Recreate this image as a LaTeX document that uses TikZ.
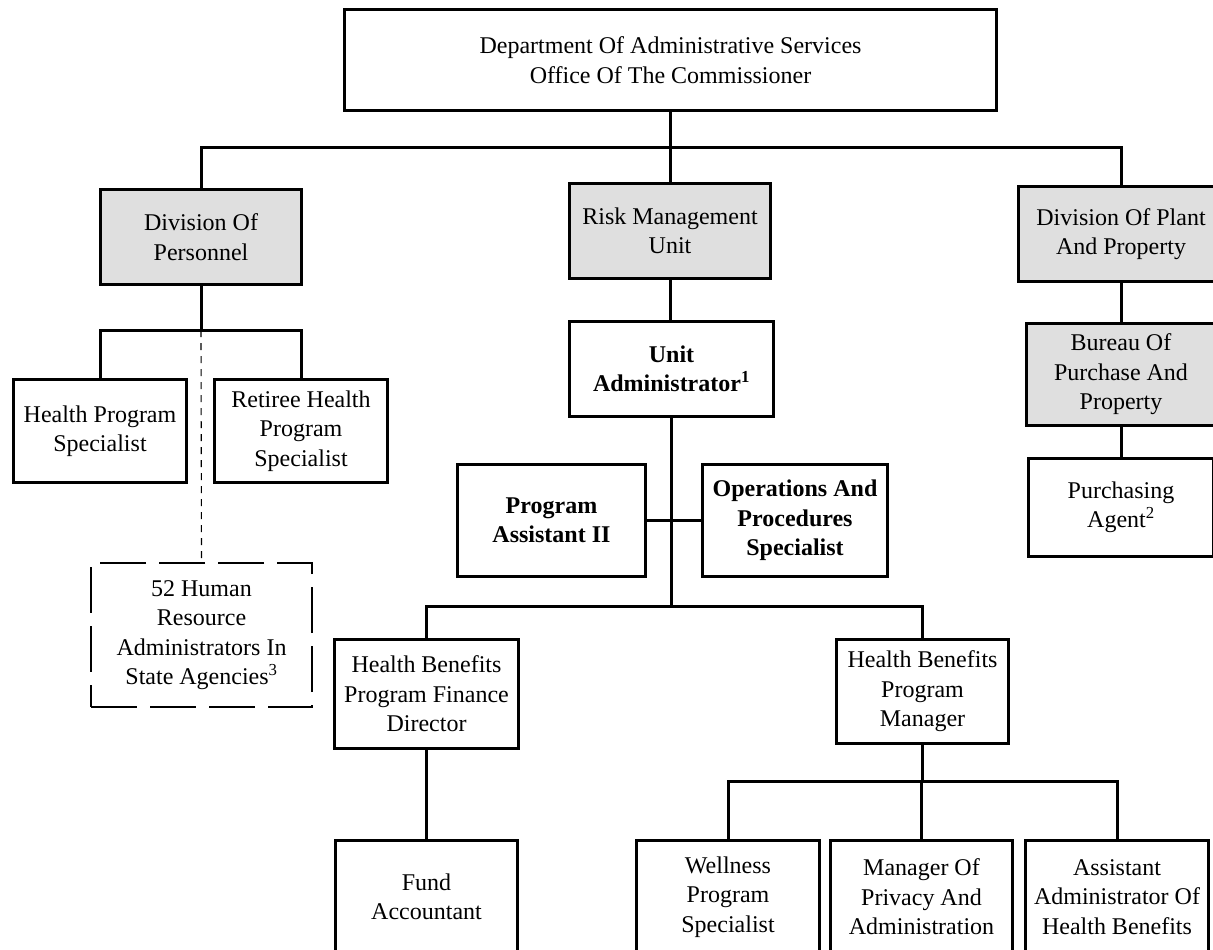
\documentclass[tikz,border=0pt]{standalone}
\usepackage{fontspec}
\setmainfont{Liberation Serif}
\newcommand{\chartfont}{\fontsize{24}{29.5}\selectfont}
\tikzset{
	orgbox/.style={draw,line width=3.6pt,fill=white,inner sep=0pt,align=center,font=\chartfont},
	grayorg/.style={orgbox,fill=gray!25},
	boldorg/.style={orgbox,font=\chartfont\bfseries},
	dashorg/.style={draw,line width=1.1pt,dash pattern=on 46pt off 13pt,inner sep=0pt,align=center,font=\chartfont},
	orgline/.style={line width=3pt},
	dotline/.style={line width=1.1pt,dash pattern=on 7pt off 6pt}
}

\begin{document}
\begin{tikzpicture}[x=1pt,y=-1pt]
	\useasboundingbox (0,0) rectangle (1213,950);
	\clip (0,0) rectangle (1213,950);

	\node[orgbox,minimum width=652pt,minimum height=101pt] (commissioner) at (670.5,60) {Department Of Administrative Services\\Office Of The Commissioner};

	\node[grayorg,minimum width=201pt,minimum height=95pt] (personnel) at (201,237) {Division Of\\Personnel};
	\node[grayorg,minimum width=201pt,minimum height=95pt] (risk) at (670,231) {Risk Management\\Unit};
	\node[grayorg,minimum width=205pt,minimum height=95pt] (plant) at (1121,234) {Division Of Plant\\And Property};

	\node[orgbox,minimum width=173pt,minimum height=103pt] (hps) at (100,431) {Health Program\\Specialist};
	\node[orgbox,minimum width=173pt,minimum height=103pt] (retiree) at (301,431) {Retiree Health\\Program\\Specialist};
	\node[dashorg,minimum width=221pt,minimum height=144pt] (agencies) at (201.5,635) {52 Human\\Resource\\Administrators In\\State Agencies\textsuperscript{3}};

	\node[boldorg,minimum width=204pt,minimum height=95pt] (administrator) at (671.5,369) {Unit\\Administrator\textsuperscript{1}};
	\node[boldorg,minimum width=188pt,minimum height=112pt] (assistant) at (551.5,520.5) {Program\\Assistant II};
	\node[boldorg,minimum width=185pt,minimum height=112pt] (operations) at (795,520.5) {Operations And\\Procedures\\Specialist};

	\node[orgbox,minimum width=184pt,minimum height=109pt] (finance) at (426.5,694) {Health Benefits\\Program Finance\\Director};
	\node[orgbox,minimum width=172pt,minimum height=104pt] (manager) at (922.5,691.5) {Health Benefits\\Program\\Manager};

	\node[orgbox,minimum width=182pt,minimum height=113pt] (fund) at (426.5,897) {Fund\\Accountant};
	\node[orgbox,minimum width=183pt,minimum height=113pt] (wellness) at (728,897) {Wellness\\Program\\Specialist};
	\node[orgbox,minimum width=182pt,minimum height=113pt] (privacy) at (921.5,897) {Manager Of\\Privacy And\\Administration};
	\node[orgbox,minimum width=183pt,minimum height=113pt] (benefits) at (1117,897) {Assistant\\Administrator Of\\Health Benefits};

	\node[grayorg,minimum width=189pt,minimum height=102pt] (bureau) at (1121,374.5) {Bureau Of\\Purchase And\\Property};
	\node[orgbox,minimum width=185pt,minimum height=98pt] (purchasing) at (1121,507.5) {Purchasing\\Agent\textsuperscript{2}};

	\coordinate (top-y) at (0,147);
	\coordinate (personnel-y) at (0,330);
	\coordinate (unit-y) at (0,606);
	\coordinate (manager-y) at (0,781);

	\draw[orgline] (commissioner.south) -- (commissioner.south|-top-y);
	\draw[orgline] (personnel.north) |- (top-y-|plant.north) -- (plant.north);
	\draw[orgline] (risk.north) -- (risk.north|-top-y);

	\draw[orgline] (personnel.south) -- (personnel.south|-personnel-y);
	\draw[orgline] (hps.north) |- (personnel-y-|retiree.north) -- (retiree.north);
	\draw[dotline] (personnel.south|-personnel-y) -- (agencies.north);

	\draw[orgline] (risk.south) -- (risk.south|-administrator.north);
	\draw[orgline] (administrator.south) -- (administrator.south|-unit-y);
	\draw[orgline] (assistant.east) -- (operations.west);
	\draw[orgline] (finance.north) |- (unit-y-|manager.north) -- (manager.north);

	\draw[orgline] (finance.south) -- (fund.north);
	\draw[orgline] (manager.south) -- (manager.south|-manager-y);
	\draw[orgline] (wellness.north) |- (manager-y-|benefits.north) -- (benefits.north);
	\draw[orgline] (privacy.north) -- (privacy.north|-manager-y);

	\draw[orgline] (plant.south) -- (bureau.north);
	\draw[orgline] (bureau.south) -- (purchasing.north);
\end{tikzpicture}
\end{document}
